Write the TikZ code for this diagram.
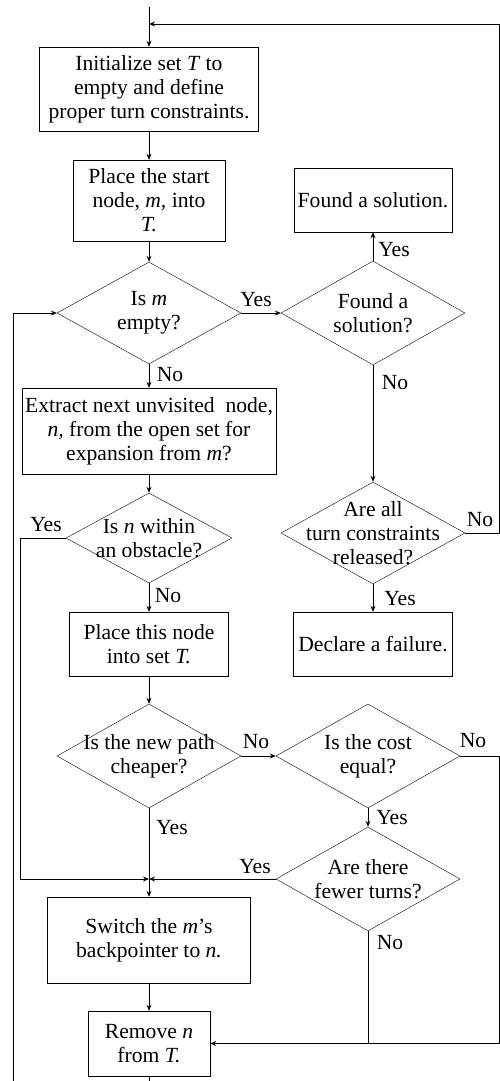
\documentclass[tikz,border=0pt]{standalone}
\usepackage{fontspec}
\setmainfont{Liberation Serif}
\usetikzlibrary{shapes.geometric,arrows.meta}
\begin{document}
\begin{tikzpicture}[x=1pt,y=-1pt,
  every node/.style={font={\fontsize{21.6}{24}\selectfont}},
  box/.style={draw,rectangle,inner sep=0pt,align=center},
  diam/.style={draw,diamond,inner sep=0pt},
  txt/.style={align=center,inner sep=0pt},
  lbl/.style={inner sep=0pt},
  line/.style={line width=0.9pt},
  arr/.style={line width=0.9pt,-{Stealth[length=6pt,width=5pt]}}]
\useasboundingbox (0,0) rectangle (500,1081);
% left column
\node[box,minimum width=219pt,minimum height=84pt] (b1) at (149,89) {Initialize set \textit{T} to\\empty and define\\proper turn constraints.};
\node[box,minimum width=152pt,minimum height=81pt] (b2) at (149,200.5) {Place the start\\node, \textit{m,} into\\\textit{T.}};
\node[diam,minimum width=184pt,minimum height=102pt] (d1) at (149,313) {};
\node[txt] (d1t) at (d1) {Is \textit{m}\\empty?};
\node[box,minimum width=254pt,minimum height=86pt] (b3) at (149,431) {Extract next unvisited\ \ node,\\\textit{n,} from the open set for\\expansion from \textit{m}?};
\node[diam,minimum width=166pt,minimum height=90pt] (d4) at (149,538) {};
\node[txt] (d4t) at (d4) {Is \textit{n} within\\an obstacle?};
\node[box,minimum width=159pt,minimum height=64pt] (b4) at (149,644) {Place this node\\into set \textit{T.}};
\node[diam,minimum width=184pt,minimum height=104pt] (d5) at (149,756) {};
\node[txt] (d5t) at (d5) {Is the new path\\cheaper?};
\node[box,minimum width=203pt,minimum height=86pt] (b5) at (149,940) {Switch the \textit{m}'s\\backpointer to \textit{n.}};
\node[box,minimum width=122pt,minimum height=65pt] (b6) at (149,1043.5) {Remove \textit{n}\\from \textit{T.}};
% right column
\node[box,minimum width=158pt,minimum height=64pt] (found) at (373,200) {Found a solution.};
\node[diam,minimum width=184pt,minimum height=104pt] (d2) at (373,313) {};
\node[txt] (d2t) at (d2) {Found a\\solution?};
\node[diam,minimum width=184pt,minimum height=102pt] (d3) at (373,533) {};
\node[txt] (d3t) at (d3) {Are all\\turn constraints\\released?};
\node[box,minimum width=159pt,minimum height=64pt] (fail) at (373,644) {Declare a failure.};
\node[diam,minimum width=184pt,minimum height=104pt] (d6) at (368,756) {};
\node[txt] (d6t) at (d6) {Is the cost\\equal?};
\node[diam,minimum width=184pt,minimum height=104pt] (d7) at (368,879) {};
\node[txt] (d7t) at (d7) {Are there\\fewer turns?};
% coordinates
\coordinate (start) at (149,7);
\coordinate (join1) at (149,24);
\coordinate (rtop) at (499,24);
\coordinate (lbot) at (13,1081);
\coordinate (lc) at (20,879);
\coordinate (join2) at (149,879);
\coordinate (rb) at (499,1043.5);
\coordinate (bend) at (149,1081);
% connectors
\draw[arr] (start) -- (b1);
\draw[arr] (b1) -- (b2);
\draw[arr] (b2) -- (d1);
\draw[arr] (d1) -- (b3);
\draw[arr] (b3) -- (d4);
\draw[arr] (d4) -- (b4);
\draw[arr] (b4) -- (d5);
\draw[arr] (d5.south) -- (b5.north);
\draw[arr] (b5) -- (b6);
\draw[line] (b6) -- (bend);
\draw[arr] (d1.east) -- (d2.west);
\draw[arr] (d2) -- (found);
\draw[arr] (d2) -- (d3);
\draw[arr] (d3) -- (fail);
\draw[arr] (d3.east) -| (rtop) -- (join1);
\draw[arr] (lbot) |- (d1.west);
\draw[arr] (d4.west) -| (lc) -- (join2);
\draw[arr] (d7.west) -- (join2);
\draw[arr] (d5.east) -- (d6.west);
\draw[arr] (d6) -- (d7);
\draw[arr] (d6.east) -| (rb) -- (b6.east);
\draw[line] (d7.south) -- (d7.south |- b6.east);
% labels
\node[lbl] (l1) at (256,300) {Yes};
\node[lbl] (l2) at (170,375) {No};
\node[lbl] (l3) at (394,250) {Yes};
\node[lbl] (l4) at (395,383) {No};
\node[lbl] (l5) at (46,525) {Yes};
\node[lbl] (l6) at (168,596) {No};
\node[lbl] (l7) at (480,520) {No};
\node[lbl] (l8) at (400,599) {Yes};
\node[lbl] (l9) at (256,742) {No};
\node[lbl] (l10) at (473,741) {No};
\node[lbl] (l11) at (172,828) {Yes};
\node[lbl] (l12) at (392,818) {Yes};
\node[lbl] (l13) at (255,867) {Yes};
\node[lbl] (l14) at (390,943) {No};
\end{tikzpicture}
\end{document}
